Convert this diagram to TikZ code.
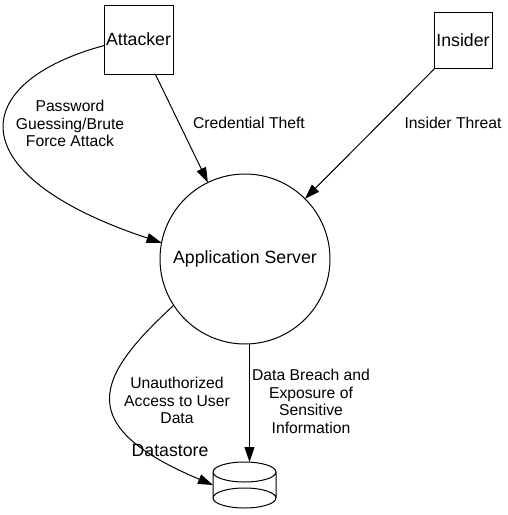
\documentclass[tikz,border=0pt]{standalone}
\usepackage{fontspec}
\setmainfont{Liberation Sans}
\usetikzlibrary{arrows.meta}
\begin{document}
\begin{tikzpicture}[x=1pt,y=-1pt,
  every node/.style={inner sep=0pt,outer sep=0pt},
  nodefont/.style={font=\fontsize{17.7}{20}\selectfont},
  edgelabel/.style={font=\fontsize{15.7}{17.5}\selectfont,align=center},
  entity/.style={draw,line width=1pt,nodefont,minimum width=69pt,minimum height=69pt},
  conn/.style={line width=1pt,-{Triangle[length=15pt,width=10pt]}}]
\useasboundingbox (0,0) rectangle (508,515);
\node[entity] (att) at (138.5,39.5) {Attacker};
\node[entity,minimum width=58pt,minimum height=56pt] (ins) at (463,40) {Insider};
\node[draw,circle,line width=1pt,minimum size=170pt,nodefont] (app) at (245,259) {Application Server};
% datastore cylinder
\node[minimum width=63pt,minimum height=46pt] (ds) at (244.5,485) {};
\draw[line width=1pt]
  (ds.center) ++(0,-13) ellipse[x radius=31.5pt,y radius=10pt]
  (ds.center) ++(0,13) ellipse[x radius=31.5pt,y radius=10pt]
  (ds.west) ++(0,-13) -- ++(0,26)
  (ds.east) ++(0,-13) -- ++(0,26);
\node[nodefont] (dslabel) at (170,450) {Datastore};
% edges
\draw[conn] (att) -- (app);
\draw[conn] (ins) -- (app);
\draw[conn] (att.190) .. controls (-31,82) and (-44,174.4) .. (app.169);
\draw[conn] ([xshift=4.5pt]app.south) -- ([xshift=4.5pt]app.south |- ds.north);
\draw[conn] (app.213) .. controls (94.6,378) and (73,426) .. (ds.west);
% labels
\node[edgelabel] (l1) at (70,123.5) {Password\\Guessing/Brute\\Force Attack};
\node[edgelabel] (l2) at (249,123) {Credential Theft};
\node[edgelabel] (l3) at (453,123) {Insider Threat};
\node[edgelabel] (l4) at (177,400.5) {Unauthorized\\Access to User\\Data};
\node[edgelabel] (l5) at (311,401.5) {Data Breach and\\Exposure of\\Sensitive\\Information};
\end{tikzpicture}
\end{document}
